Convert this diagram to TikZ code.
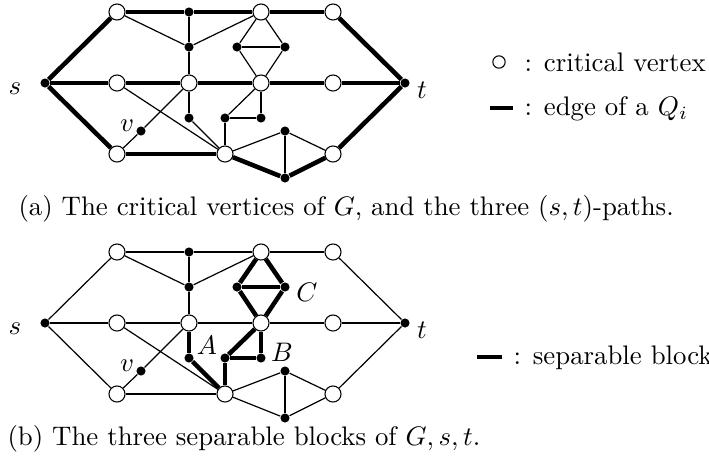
\documentclass[tikz,border=0pt]{standalone}
\begin{document}
\begin{tikzpicture}[x=0.373pt,y=-0.373pt,
  crit/.style={circle,draw,fill=white,inner sep=0pt,minimum size=6pt,line width=0.4pt},
  dot/.style={circle,fill=black,inner sep=0pt,minimum size=3.4pt},
  ed/.style={line width=0.45pt},
  thk/.style={line width=1.7pt},
  lbl/.style={inner sep=0pt,anchor=center},
  blbl/.style={inner sep=0pt,anchor=base}]
\useasboundingbox (0,0) rectangle (709,459);
\newcommand\gnodes{%
  \node[dot]  (s)  at (45,83)   {};
  \node[crit] (p1) at (117,12)  {};
  \node[dot]  (p2) at (189,12)  {};
  \node[crit] (p3) at (261,12)  {};
  \node[crit] (p4) at (333,12)  {};
  \node[dot]  (q1) at (189,47)  {};
  \node[dot]  (q2) at (237,47)  {};
  \node[dot]  (q3) at (285,47)  {};
  \node[crit] (m1) at (117,83)  {};
  \node[crit] (m2) at (189,83)  {};
  \node[crit] (m3) at (261,83)  {};
  \node[crit] (m4) at (333,83)  {};
  \node[dot]  (t)  at (405,83)  {};
  \node[dot]  (r1) at (189,118) {};
  \node[dot]  (r2) at (225,118) {};
  \node[dot]  (r3) at (261,118) {};
  \node[dot]  (v)  at (141,131) {};
  \node[dot]  (w)  at (285,131) {};
  \node[crit] (b1) at (117,154) {};
  \node[crit] (b2) at (225,154) {};
  \node[crit] (b3) at (333,154) {};
  \node[dot]  (z)  at (285,178) {};
  \node[blbl] (ls) at (15,94) {$s$};
  \node[blbl] (lt) at (422,98) {$t$};
  \node[lbl] (lv) at (127,126) {$v$};
}
\newcommand\edgeset[2]{\foreach \u/\w in #2 {\draw[#1] (\u) -- (\w);}}
\def\pathE{s/p1,p1/p2,p2/p3,p3/p4,p4/t,s/m1,m1/m2,m2/m3,m3/m4,m4/t,s/b1,b1/b2,b2/z,z/b3,b3/t}
\def\blockE{m2/r1,r1/b2,b2/r2,r2/m3,m3/r3,r2/r3,p3/q2,p3/q3,q2/q3,q2/m3,q3/m3}
\def\otherE{p1/q1,p2/q1,q1/p3,q1/m2,m1/b2,m2/v,v/b1,b2/w,w/b3,w/z}
% (a)
\begin{scope}[name prefix=a-]
  \gnodes
  \edgeset{thk}{\pathE}
  \edgeset{ed}{\blockE}
  \edgeset{ed}{\otherE}
\end{scope}
\node[crit,minimum size=4.6pt] (lc) at (499,62) {};
\node[anchor=west,inner sep=0pt] (lct) at (524,62) {: critical vertex};
\coordinate (le1) at (490,108);
\coordinate (le2) at (513,108);
\draw[thk] (le1) -- (le2);
\node[anchor=west,inner sep=0pt] (let) at (524,109) {: edge of a $Q_i$};
\node[anchor=west,inner sep=0pt] (capa) at (18,209) {(a) The critical vertices of $G$, and the three $(s,t)$-paths.};
% (b)
\begin{scope}[name prefix=b-,shift={(0,240)}]
  \gnodes
  \edgeset{ed}{\pathE}
  \edgeset{thk}{\blockE}
  \edgeset{ed}{\otherE}
  \node[lbl] (lA) at (207,105) {$A$};
  \node[lbl] (lB) at (282,112) {$B$};
  \node[lbl] (lC) at (307,52) {$C$};
\end{scope}
\coordinate (lb1) at (477,357);
\coordinate (lb2) at (502,357);
\draw[thk] (lb1) -- (lb2);
\node[anchor=west,inner sep=0pt] (lbt) at (513,358) {: separable block};
\node[anchor=west,inner sep=0pt] (capb) at (7,439) {(b) The three separable blocks of $G,s,t$.};
\end{tikzpicture}
\end{document}
